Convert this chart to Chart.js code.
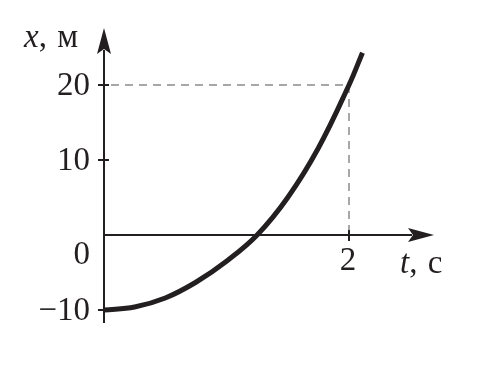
<!DOCTYPE html>
<html>
<head>
<meta charset="utf-8">
<script src="https://cdn.jsdelivr.net/npm/chart.js@4"></script>
<style>
  html, body { margin: 0; padding: 0; background: #fff; }
  #wrap { width: 477px; height: 365px; }
</style>
</head>
<body>
<div id="wrap"><canvas id="motionChart"></canvas></div>
<script>
// values
const timeValues = [0, 0.25, 0.5, 0.75, 1, 1.25, 1.5, 1.75, 2, 2.11];
const positionValues = [-10, -9.6, -8.4, -6.3, -3.5, 0.0, 5.0, 11.6, 20, 24.3];
const yTickValues = [-10, 10, 20];
const yTickLabels = ['\u221210', '10', '20'];
const xTickValues = [2];
const xTickLabels = ['2'];
const guidePoint = { t: 2, x: 20 };

const ink = '#231f20';
const font = '"Liberation Serif", "DejaVu Serif", serif';
const size = 33;

function arrowHead(ctx, tipX, tipY, dir) {
    // dir: 'up' or 'right'
    ctx.beginPath();
    if (dir === 'up') {
        ctx.moveTo(tipX, tipY);
        ctx.lineTo(tipX + 7, tipY + 26);
        ctx.lineTo(tipX, tipY + 21);
        ctx.lineTo(tipX - 7, tipY + 26);
    } else {
        ctx.moveTo(tipX, tipY);
        ctx.lineTo(tipX - 26, tipY - 7);
        ctx.lineTo(tipX - 21, tipY);
        ctx.lineTo(tipX - 26, tipY + 7);
    }
    ctx.closePath();
    ctx.fill();
}

function axisTitle(ctx, letter, unit, x, y) {
    ctx.font = 'italic ' + size + 'px ' + font;
    ctx.fillText(letter, x, y);
    let w = ctx.measureText(letter).width;
    ctx.font = size + 'px ' + font;
    ctx.fillText(',', x + w, y);
    w += ctx.measureText(', ').width + 2;
    ctx.fillText(unit, x + w, y);
}

const axesPlugin = {
    id: 'axesPlugin',
    beforeDatasetsDraw(chart) {
        const ctx = chart.ctx;
        const xs = chart.scales.x, ys = chart.scales.y;
        const x0 = xs.getPixelForValue(0);
        const y0 = ys.getPixelForValue(0);
        const gx = xs.getPixelForValue(guidePoint.t);
        const gy = ys.getPixelForValue(guidePoint.x);
        ctx.save();

        // dashed guides
        ctx.strokeStyle = '#8a8a8a';
        ctx.lineWidth = 1.5;
        ctx.setLineDash([8, 6]);
        ctx.beginPath();
        ctx.moveTo(x0 + 7, gy);
        ctx.lineTo(gx, gy);
        ctx.moveTo(gx, gy);
        ctx.lineTo(gx, y0 - 5);
        ctx.stroke();
        ctx.setLineDash([]);

        // axes
        ctx.strokeStyle = ink;
        ctx.fillStyle = ink;
        ctx.lineWidth = 2;
        ctx.beginPath();
        ctx.moveTo(x0, chart.chartArea.bottom - 2);
        ctx.lineTo(x0, 50);
        ctx.moveTo(x0, y0);
        ctx.lineTo(412, y0);
        ctx.stroke();
        arrowHead(ctx, x0, 28, 'up');
        arrowHead(ctx, 434, y0, 'right');

        // ticks
        ctx.beginPath();
        yTickValues.forEach(v => {
            const py = ys.getPixelForValue(v);
            ctx.moveTo(x0 - 6, py);
            ctx.lineTo(x0 + 5, py);
        });
        xTickValues.forEach(v => {
            const px = xs.getPixelForValue(v);
            ctx.moveTo(px, y0 - 5);
            ctx.lineTo(px, y0 + 6);
        });
        ctx.stroke();

        // tick labels
        ctx.font = size + 'px ' + font;
        ctx.textAlign = 'right';
        ctx.textBaseline = 'middle';
        yTickValues.forEach((v, i) => {
            ctx.fillText(yTickLabels[i], x0 - 14, ys.getPixelForValue(v) + 1);
        });
        ctx.fillText('0', x0 - 14, y0 + 20);
        ctx.textAlign = 'center';
        xTickValues.forEach((v, i) => {
            ctx.fillText(xTickLabels[i], xs.getPixelForValue(v) - 1, y0 + 26);
        });

        // axis titles
        ctx.textAlign = 'left';
        ctx.textBaseline = 'alphabetic';
        axisTitle(ctx, 'x', 'м', 24, 47);
        axisTitle(ctx, 't', 'с', 400, 273);
        ctx.restore();
    }
};

new Chart(document.getElementById('motionChart'), {
    type: 'scatter',
    data: {
        datasets: [{
            data: timeValues.map((t, i) => ({ x: t, y: positionValues[i] })),
            showLine: true,
            borderColor: ink,
            borderWidth: 5,
            pointRadius: 0,
            tension: 0.4,
            clip: false
        }]
    },
    options: {
        responsive: true,
        maintainAspectRatio: false,
        animation: false,
        events: [],
        layout: { padding: { left: 104, right: 42.25, top: 25, bottom: 40 } },
        plugins: {
            legend: { display: false },
            tooltip: { enabled: false }
        },
        scales: {
            x: { type: 'linear', min: 0, max: 2.7, display: false },
            y: { type: 'linear', min: -12, max: 28, display: false }
        }
    },
    plugins: [axesPlugin]
});
</script>
</body>
</html>
